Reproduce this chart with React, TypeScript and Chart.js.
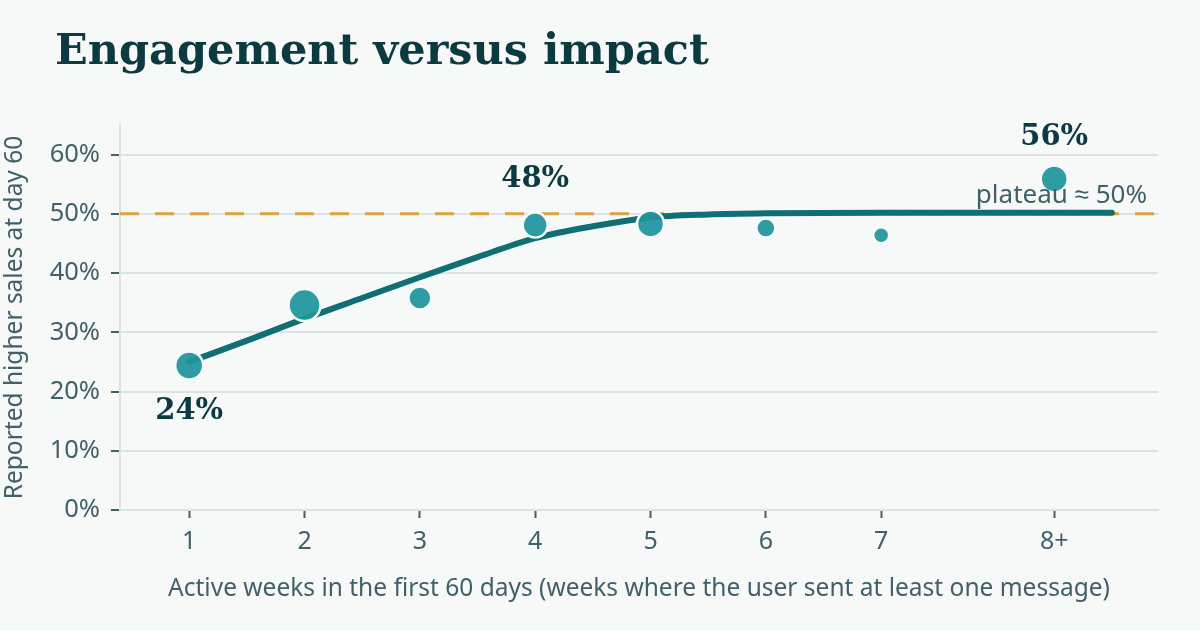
import React, { useEffect, useRef } from "react";
import { Chart, registerables } from "chart.js";

Chart.register(...registerables);

// ---- data ----
const titleText = "Engagement versus impact";
const xAxisTitle = "Active weeks in the first 60 days (weeks where the user sent at least one message)";
const yAxisTitle = "Reported higher sales at day 60";

const weekPositions = [1, 2, 3, 4, 5, 6, 7, 8.5];
const weekLabels = ["1", "2", "3", "4", "5", "6", "7", "8+"];
const salesShare = [24.4, 34.6, 35.8, 48.1, 48.3, 47.6, 46.4, 55.9];
const bubbleSize = [14, 16, 11.5, 12.5, 13.5, 9.5, 8, 13.5];

const trendX = [1, 1.5, 2, 2.5, 3, 3.5, 4, 4.5, 5, 5.5, 6, 7, 8, 9];
const trendY = [25.0, 28.6, 32.3, 35.8, 39.3, 42.7, 45.9, 47.9, 49.4, 49.9, 50.1, 50.2, 50.2, 50.2];

const yTicks = [0, 10, 20, 30, 40, 50, 60];
const plateauValue = 50;
const plateauLabel = "plateau \u2248 50%";

// labelled points: index into series, and label text
const calloutIndex = [0, 3, 7];
const calloutText = ["24%", "48%", "56%"];
const calloutOffset = [46, -46, -41];

const BG = "#f6f9f8";
const INK = "#0b3a40";
const MUTED = "#41606a";
const GRID = "#d9e3e1";
const SANS = "'Noto Sans', sans-serif";
const SERIF = "'DejaVu Serif', serif";

const overlay = {
  id: "overlay",
  beforeDraw(chart: any) {
    const { ctx, width, height } = chart;
    ctx.save();
    ctx.fillStyle = BG;
    ctx.fillRect(0, 0, width, height);
    ctx.fillStyle = INK;
    ctx.font = `bold 43px ${SERIF}`;
    ctx.textAlign = "left";
    ctx.textBaseline = "alphabetic";
    ctx.fillText(titleText, 55, 64);
    ctx.restore();
  },
  beforeDatasetsDraw(chart: any) {
    const { ctx, chartArea, scales } = chart;
    const y = scales.y.getPixelForValue(plateauValue);
    ctx.save();
    ctx.strokeStyle = "#d9a441";
    ctx.lineWidth = 3;
    ctx.setLineDash([19, 16]);
    ctx.beginPath();
    ctx.moveTo(chartArea.left, y);
    ctx.lineTo(chartArea.right, y);
    ctx.stroke();
    ctx.restore();
  },
  afterDatasetsDraw(chart: any) {
    const { ctx, chartArea, scales } = chart;
    ctx.save();
    const py = scales.y.getPixelForValue(plateauValue);
    ctx.fillStyle = MUTED;
    ctx.font = `26px ${SANS}`;
    ctx.textAlign = "right";
    ctx.textBaseline = "alphabetic";
    ctx.fillText(plateauLabel, chartArea.right - 11, py - 11);

    ctx.fillStyle = INK;
    ctx.font = `bold 29px ${SERIF}`;
    ctx.textAlign = "center";
    ctx.textBaseline = "middle";
    calloutIndex.forEach((idx, i) => {
      const x = scales.x.getPixelForValue(weekPositions[idx]);
      const y = scales.y.getPixelForValue(salesShare[idx]);
      ctx.fillText(calloutText[i], x, y + calloutOffset[i]);
    });
    ctx.restore();
  },
};

export default function App() {
  const ref = useRef<HTMLCanvasElement>(null);

  useEffect(() => {
    document.body.style.margin = "0";
    document.body.style.background = BG;
    const canvas = ref.current;
    if (!canvas) return;
    const chart = new Chart(canvas, {
      type: "bubble",
      data: {
        datasets: [
          {
            type: "line",
            data: trendX.map((x, i) => ({ x, y: trendY[i] })),
            borderColor: "#0f6f74",
            borderWidth: 6,
            borderCapStyle: "round",
            pointRadius: 0,
            tension: 0.4,
            cubicInterpolationMode: "monotone",
            fill: false,
            order: 2,
          } as any,
          {
            type: "bubble",
            data: weekPositions.map((x, i) => ({ x, y: salesShare[i], r: bubbleSize[i] })),
            backgroundColor: "rgba(31,148,156,0.93)",
            borderColor: "#f6fbfa",
            borderWidth: 2.5,
            hoverRadius: 0,
            order: 1,
          } as any,
        ],
      },
      options: {
        animation: false,
        responsive: false,
        maintainAspectRatio: false,
        devicePixelRatio: 1,
        layout: { padding: { top: 125, right: 42, bottom: 0, left: 0 } },
        plugins: {
          legend: { display: false },
          tooltip: { enabled: false },
          title: { display: false },
        },
        scales: {
          x: {
            type: "linear",
            min: 0.4,
            max: 9.4,
            afterBuildTicks: (axis: any) => {
              axis.ticks = weekPositions.map((v) => ({ value: v }));
            },
            afterFit: (axis: any) => {
              axis.height = 120;
            },
            ticks: {
              autoSkip: false,
              maxRotation: 0,
              padding: 9,
              color: MUTED,
              font: { family: SANS, size: 25 },
              callback: (v: any) => {
                const i = weekPositions.indexOf(Number(v));
                return i >= 0 ? weekLabels[i] : "";
              },
            },
            grid: {
              drawOnChartArea: false,
              drawTicks: true,
              tickLength: 8,
              tickColor: MUTED,
              tickWidth: 2,
            },
            border: { color: GRID, width: 2 },
            title: {
              display: true,
              text: xAxisTitle,
              color: MUTED,
              font: { family: SANS, size: 24.5 },
              padding: { top: 0, bottom: 26 },
            },
          },
          y: {
            type: "linear",
            min: 0,
            max: 65,
            afterBuildTicks: (axis: any) => {
              axis.ticks = yTicks.map((v) => ({ value: v }));
            },
            afterFit: (axis: any) => {
              axis.width = 120;
            },
            ticks: {
              padding: 11,
              color: MUTED,
              font: { family: SANS, size: 25.5 },
              callback: (v: any) => `${v}%`,
            },
            grid: {
              color: GRID,
              lineWidth: 2,
              drawTicks: true,
              tickLength: 9,
              tickColor: MUTED,
              tickWidth: 2,
            },
            border: { color: GRID, width: 2 },
            title: {
              display: true,
              text: yAxisTitle,
              color: MUTED,
              font: { family: SANS, size: 24.5 },
              padding: { top: 0, bottom: 0 },
            },
          },
        },
      },
      plugins: [overlay],
    });
    return () => chart.destroy();
  }, []);

  return (
    <div style={{ width: 1200, height: 630, background: BG }}>
      <canvas ref={ref} width={1200} height={630} style={{ display: "block", width: 1200, height: 630 }} />
    </div>
  );
}
